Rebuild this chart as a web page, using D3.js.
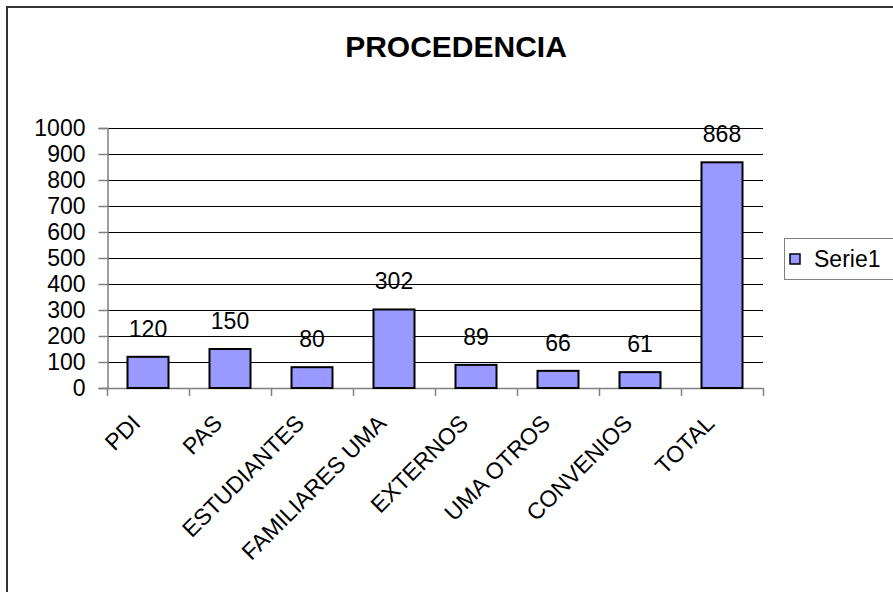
<!DOCTYPE html>
<html>
<head>
<meta charset="utf-8">
<script src="https://cdn.jsdelivr.net/npm/d3@7"></script>
<style>
  body { margin: 0; background: #fff; }
  text { font-family: Arial, 'Liberation Sans', sans-serif; fill: #000; }
</style>
</head>
<body>
<script>
// chart data
const categories = ['PDI', 'PAS', 'ESTUDIANTES', 'FAMILIARES UMA', 'EXTERNOS', 'UMA OTROS', 'CONVENIOS', 'TOTAL']
const serie1 = [120, 150, 80, 302, 89, 66, 61, 868]
const yTicks = [0, 100, 200, 300, 400, 500, 600, 700, 800, 900, 1000]
const seriesName = 'Serie1'
const chartTitle = 'PROCEDENCIA'

;(() => {
  const width = 893,
    height = 592
  // plot area
  const plot = { left: 107, right: 763, top: 128, bottom: 388 }
  const barColor = '#9999ff'

  const svg = d3
    .select('body')
    .append('svg')
    .attr('width', width)
    .attr('height', height)

  // outer chart frame (runs past the right and bottom edge)
  svg
    .append('rect')
    .attr('x', 7)
    .attr('y', 7)
    .attr('width', 920)
    .attr('height', 620)
    .attr('fill', '#fff')
    .attr('stroke', '#333')
    .attr('stroke-width', 2)

  svg
    .append('text')
    .attr('x', 456)
    .attr('y', 57)
    .attr('text-anchor', 'middle')
    .style('font-size', '30px')
    .style('font-weight', 'bold')
    .text(chartTitle)

  const x = d3.scaleBand().domain(categories).range([plot.left, plot.right])
  const y = d3.scaleLinear().domain([0, 1000]).range([plot.bottom, plot.top])

  // horizontal gridlines
  svg
    .selectAll('.grid')
    .data(yTicks.filter(d => d > 0))
    .enter()
    .append('line')
    .attr('class', 'grid')
    .attr('x1', plot.left)
    .attr('x2', plot.right)
    .attr('y1', d => y(d) + 0.5)
    .attr('y2', d => y(d) + 0.5)
    .attr('stroke', '#000')
    .attr('stroke-width', 1)

  // y axis
  const yAxis = svg
    .append('g')
    .attr('transform', `translate(${plot.left + 0.5},0)`)
    .call(d3.axisLeft(y).tickValues(yTicks).tickFormat(d3.format('d')).tickSize(9).tickPadding(13))
  yAxis.select('.domain').attr('stroke', '#808080').attr('stroke-width', 1.5)
  yAxis.selectAll('.tick line').attr('stroke', '#808080').attr('stroke-width', 1.5)
  yAxis
    .selectAll('.tick text')
    .style('font-size', '23px')
    .style('font-family', 'Arial, "Liberation Sans", sans-serif')
    .attr('fill', '#000')

  // x axis line and ticks at band boundaries
  svg
    .append('line')
    .attr('x1', plot.left)
    .attr('x2', plot.right)
    .attr('y1', plot.bottom + 0.5)
    .attr('y2', plot.bottom + 0.5)
    .attr('stroke', '#808080')
    .attr('stroke-width', 1.5)

  const boundaries = categories.map(c => x(c)).concat([plot.right])
  svg
    .selectAll('.xtick')
    .data(boundaries)
    .enter()
    .append('line')
    .attr('class', 'xtick')
    .attr('x1', d => d + 0.5)
    .attr('x2', d => d + 0.5)
    .attr('y1', plot.bottom)
    .attr('y2', plot.bottom + 8)
    .attr('stroke', '#808080')
    .attr('stroke-width', 1.5)

  // bars: half the band wide, centred
  const barW = x.bandwidth() / 2
  svg
    .selectAll('.bar')
    .data(serie1)
    .enter()
    .append('rect')
    .attr('class', 'bar')
    .attr('x', (d, i) => x(categories[i]) + (x.bandwidth() - barW) / 2)
    .attr('y', d => y(d))
    .attr('width', barW)
    .attr('height', d => y(0) - y(d))
    .attr('fill', barColor)
    .attr('stroke', '#000')
    .attr('stroke-width', 2)

  // value labels above bars
  svg
    .selectAll('.valLabel')
    .data(serie1)
    .enter()
    .append('text')
    .attr('class', 'valLabel')
    .attr('x', (d, i) => x(categories[i]) + x.bandwidth() / 2)
    .attr('y', d => y(d) - 20)
    .attr('text-anchor', 'middle')
    .style('font-size', '23px')
    .text(d => d)

  // rotated category labels
  svg
    .selectAll('.catLabel')
    .data(categories)
    .enter()
    .append('text')
    .attr('class', 'catLabel')
    .attr('transform', d => `translate(${x(d) + x.bandwidth() / 2 - 18},${plot.bottom + 25}) rotate(-45)`)
    .attr('text-anchor', 'end')
    .attr('dy', '0.72em')
    .style('font-size', '23px')
    .text(d => d)

  // legend
  const legend = svg.append('g').attr('transform', 'translate(784,238)')
  legend
    .append('rect')
    .attr('x', 0.5)
    .attr('y', 0.5)
    .attr('width', 130)
    .attr('height', 41)
    .attr('fill', '#fff')
    .attr('stroke', '#808080')
    .attr('stroke-width', 1)
  legend
    .append('rect')
    .attr('x', 6)
    .attr('y', 16)
    .attr('width', 10)
    .attr('height', 10)
    .attr('fill', barColor)
    .attr('stroke', '#000')
    .attr('stroke-width', 1.5)
  legend
    .append('text')
    .attr('x', 30)
    .attr('y', 29)
    .style('font-size', '23px')
    .text(seriesName)
})()
</script>
</body>
</html>
